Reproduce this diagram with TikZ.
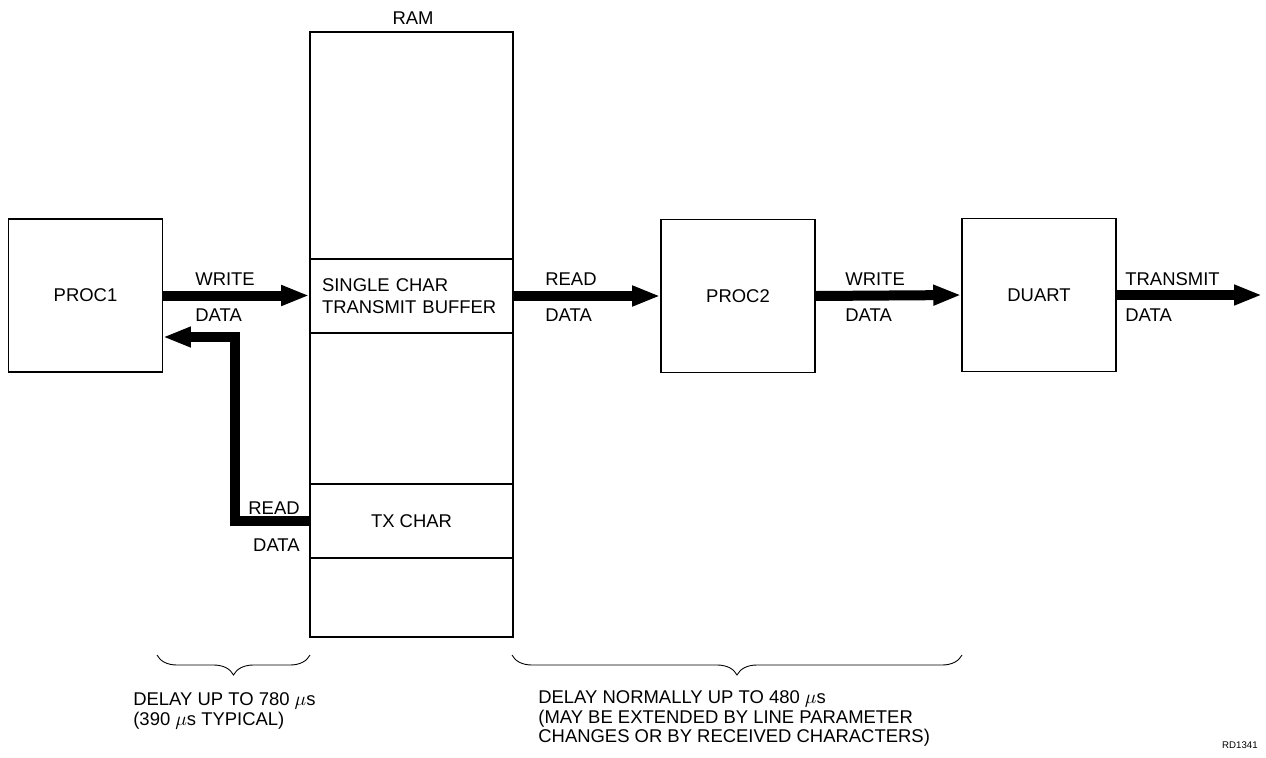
\documentclass[tikz,border=0pt]{standalone}
\usepackage{fontspec}
\setmainfont{Liberation Sans}
\usetikzlibrary{arrows.meta,decorations.pathreplacing,positioning}

\begin{document}
\begin{tikzpicture}[x=0.02cm,y=-0.02cm,font=\fontsize{10.5}{12.5}\selectfont,
  blk/.style={draw,line width=0.9pt,minimum width=3.08cm,minimum height=3.06cm},
  mem/.style={draw,line width=0.9pt,minimum width=4.06cm,inner sep=0pt},
  bus/.style={line width=0.2cm,-{Triangle[length=0.56cm,width=0.38cm]}},
  lbl/.style={inner sep=0pt},
  brc/.style={decorate,decoration={brace,mirror,amplitude=0.4cm},line width=0.5pt}]
  \useasboundingbox (0,0) rectangle (1266,757);
  % processors and uart
  \node[blk] (proc1) at (85.5,295.5) {PROC1};
  \node[blk] (proc2) at (738,296) {PROC2};
  \node[blk] (duart) at (1039,295) {DUART};
  % the ram column
  \node[mem,minimum height=4.54cm] (ramtop) at (411.5,145.5) {};
  \node[mem,minimum height=1.48cm,inner xsep=0.24cm,text width=3.58cm,align=left] (buf) at (411.5,296) {SINGLE CHAR\\TRANSMIT BUFFER};
  \node[mem,minimum height=3.02cm] (ramgap) at (411.5,408.5) {};
  \node[mem,minimum height=1.48cm] (txc) at (411.5,521) {TX CHAR};
  \node[mem,minimum height=1.58cm] (rambot) at (411.5,597.5) {};
  \node[lbl] (ram) at (413,18) {RAM};
  % data paths
  \coordinate (rdin) at (163,337); \coordinate (txout) at (1262,295);
  \draw[bus] (proc1.east) -- (proc1.east -| buf.west);
  \draw[bus] (txc.west) -- ++(-74,0) |- (rdin);
  \draw[bus] (buf.east) -- (proc2.west);
  \draw[bus] (proc2.east) -- (duart.west);
  \draw[bus] (duart.east) -- (txout);
  \foreach \x/\t in {195/WRITE,545/READ,845/WRITE,1125/TRANSMIT} {\node[lbl,anchor=west] (up\x) at (\x,279) {\t}; \node[lbl,anchor=west] (dn\x) at (\x,315) {DATA};}
  \node[lbl,anchor=east] (rdup) at (300,508) {READ};
  \node[lbl,anchor=east] (rddn) at (300,545) {DATA};
  % delays
  \coordinate (b1a) at (157,655); \coordinate (b1b) at (310,655);
  \coordinate (b2a) at (512,655); \coordinate (b2b) at (962,655);
  \draw[brc] (b1a) -- (b1b);
  \draw[brc] (b2a) -- (b2b);
  \node[lbl,anchor=north west,align=left,font=\fontsize{10.5}{11.3}\selectfont] (dly1) at (133,692) {DELAY UP TO 780 $\mu$s\\(390 $\mu$s TYPICAL)};
  \node[lbl,anchor=north west,align=left,font=\fontsize{10.5}{11.3}\selectfont] (dly2) at (538,690) {DELAY NORMALLY UP TO 480 $\mu$s\\(MAY BE EXTENDED BY LINE PARAMETER\\CHANGES OR BY RECEIVED CHARACTERS)};
  \node[lbl,anchor=east,font=\fontsize{5.5}{6}\selectfont] (fig) at (1258,745) {RD1341};
\end{tikzpicture}
\end{document}
